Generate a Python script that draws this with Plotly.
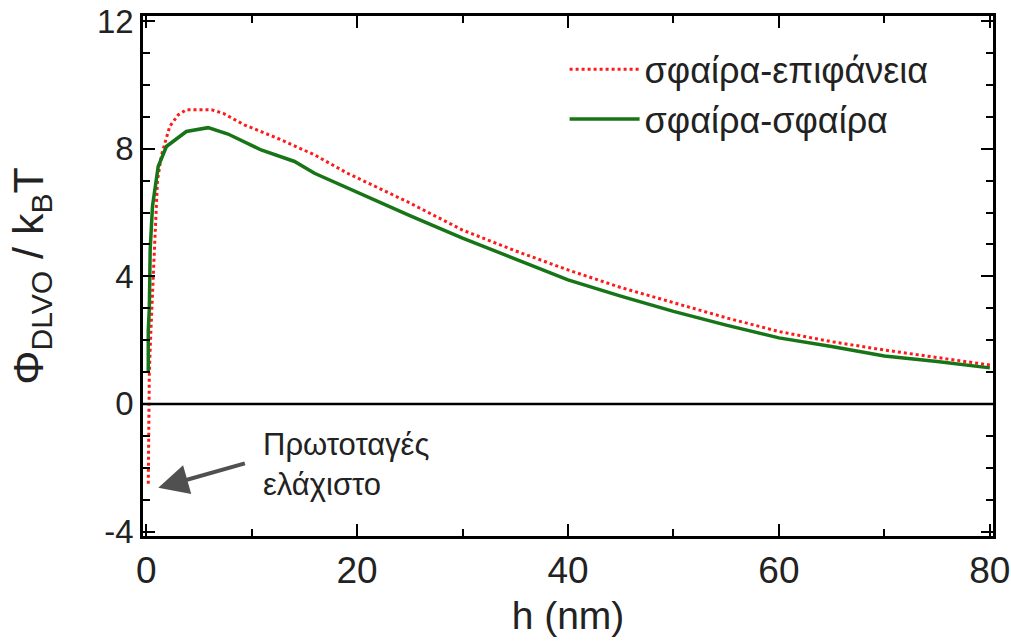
import plotly.graph_objects as go

# sphere-plane (red dotted)
h_sp = [0.2, 0.25, 0.3, 0.45, 0.8, 1.07, 1.45, 2.24, 3.03, 3.8, 6.2, 7.3, 9.3, 12.8, 16.0, 19.1,
        25, 30, 35, 40, 45, 50, 55, 60, 65, 70, 75, 80]
phi_sp = [-2.5, 0.0, 1.0, 2.3, 4.8, 7.0, 7.8, 8.7, 9.06, 9.22, 9.22, 9.11, 8.75, 8.28, 7.8, 7.23,
          6.3, 5.45, 4.8, 4.2, 3.65, 3.17, 2.7, 2.27, 1.95, 1.69, 1.45, 1.22]

# sphere-sphere (green solid)
h_ss = [0.2, 0.2, 0.3, 0.38, 0.6, 1.14, 1.92, 3.81, 5.87, 7.76, 10.9, 14.07, 15.96, 19.1,
        25, 30, 35, 40, 45, 50, 55, 60, 65, 70, 75, 80]
phi_ss = [1.0, 2.3, 3.0, 4.83, 6.2, 7.44, 8.07, 8.54, 8.66, 8.46, 7.96, 7.6, 7.23, 6.76,
          5.9, 5.2, 4.55, 3.89, 3.38, 2.9, 2.47, 2.07, 1.8, 1.5, 1.33, 1.13]

names = ["σφαίρα-επιφάνεια", "σφαίρα-σφαίρα"]
x_ticks = [0, 20, 40, 60, 80]
y_ticks = [-4, 0, 4, 8, 12]

fig = go.Figure()
fig.add_trace(go.Scatter(x=h_sp, y=phi_sp, mode="lines", name=names[0],
                         line=dict(color="#ff1a1a", width=3, dash="dot")))
fig.add_trace(go.Scatter(x=h_ss, y=phi_ss, mode="lines", name=names[1],
                         line=dict(color="#177517", width=3.5)))

# zero line
fig.add_hline(y=0, line=dict(color="black", width=2.5))

# annotation with arrow
fig.add_annotation(x=1.15, y=-2.63, ax=9.5, ay=-1.85, axref="x", ayref="y",
                   xref="x", yref="y", text="", showarrow=True,
                   arrowhead=2, arrowsize=1.5, arrowwidth=4, arrowcolor="#505050")
fig.add_annotation(x=10.9, y=-1.9, xref="x", yref="y", xanchor="left", yanchor="middle",
                   text="Πρωτοταγές<br>ελάχιστο", showarrow=False, align="left",
                   font=dict(family="Liberation Sans, Arial", size=31, color="#222"))

axis_common = dict(showline=True, linecolor="black", linewidth=2.5, mirror="allticks",
                   ticks="inside", tickcolor="black", tickwidth=2, ticklen=12,
                   showgrid=False, zeroline=False, automargin=False)

fig.update_xaxes(range=[-0.3, 80.3], tickvals=x_ticks, ticktext=[str(v) for v in x_ticks],
                 minor=dict(dtick=10, tick0=0, ticks="inside", ticklen=7, tickcolor="black", tickwidth=2),
                 title=dict(text="h (nm)", font=dict(family="Liberation Sans, Arial", size=39, color="#222"), standoff=12),
                 tickfont=dict(family="Liberation Sans, Arial", size=37, color="#222"),
                 **axis_common)
fig.update_yaxes(range=[-4.14, 12.16], tickvals=y_ticks, ticktext=[str(v) for v in y_ticks],
                 minor=dict(dtick=1, tick0=0, ticks="inside", ticklen=7, tickcolor="black", tickwidth=2),
                 title=dict(text="Φ<sub>DLVO</sub> / k<sub>B</sub>T", font=dict(family="Liberation Sans, Arial", size=43, color="#222"), standoff=40),
                 tickfont=dict(family="Liberation Sans, Arial", size=33, color="#222"),
                 **axis_common)

fig.update_layout(width=1011, height=644, margin=dict(l=143, r=18, t=16, b=108),
                  paper_bgcolor="white", plot_bgcolor="white", showlegend=True,
                  legend=dict(x=0.496, y=0.955, xanchor="left", yanchor="top", bgcolor="rgba(0,0,0,0)",
                              font=dict(family="Liberation Sans, Arial", size=36, color="#222"),
                              itemwidth=70, tracegroupgap=0))

fig.write_html("out.html", config={"displayModeBar": False},
               post_script="document.body.style.margin='0';")
